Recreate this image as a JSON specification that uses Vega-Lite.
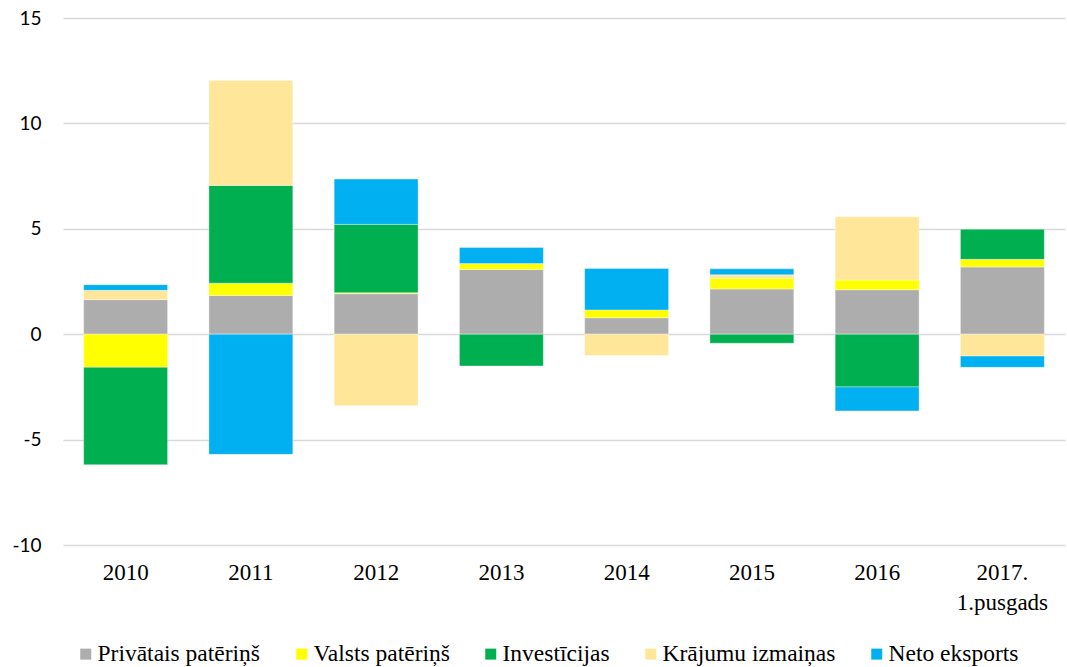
{
  "$schema": "https://vega.github.io/schema/vega-lite/v6.json",
  "autosize": {"type": "none"},
  "width": 1002,
  "height": 527,
  "padding": {"left": 63, "top": 18, "right": 2, "bottom": 122},
  "background": "#ffffff",
  "data": {
    "values": [
      {"period": "2010", "comp": "Privātais patēriņš", "ord": 1, "value": 1.64},
      {"period": "2010", "comp": "Valsts patēriņš", "ord": 2, "value": -1.57},
      {"period": "2010", "comp": "Investīcijas", "ord": 3, "value": -4.62},
      {"period": "2010", "comp": "Krājumu izmaiņas", "ord": 4, "value": 0.44},
      {"period": "2010", "comp": "Neto eksports", "ord": 5, "value": 0.27},
      {"period": "2011", "comp": "Privātais patēriņš", "ord": 1, "value": 1.84},
      {"period": "2011", "comp": "Valsts patēriņš", "ord": 2, "value": 0.58},
      {"period": "2011", "comp": "Investīcijas", "ord": 3, "value": 4.64},
      {"period": "2011", "comp": "Krājumu izmaiņas", "ord": 4, "value": 4.97},
      {"period": "2011", "comp": "Neto eksports", "ord": 5, "value": -5.70},
      {"period": "2012", "comp": "Privātais patēriņš", "ord": 1, "value": 1.92},
      {"period": "2012", "comp": "Valsts patēriņš", "ord": 2, "value": 0.05},
      {"period": "2012", "comp": "Investīcijas", "ord": 3, "value": 3.24},
      {"period": "2012", "comp": "Krājumu izmaiņas", "ord": 4, "value": -3.39},
      {"period": "2012", "comp": "Neto eksports", "ord": 5, "value": 2.15},
      {"period": "2013", "comp": "Privātais patēriņš", "ord": 1, "value": 3.07},
      {"period": "2013", "comp": "Valsts patēriņš", "ord": 2, "value": 0.28},
      {"period": "2013", "comp": "Investīcijas", "ord": 3, "value": -1.51},
      {"period": "2013", "comp": "Neto eksports", "ord": 5, "value": 0.76},
      {"period": "2014", "comp": "Privātais patēriņš", "ord": 1, "value": 0.78},
      {"period": "2014", "comp": "Valsts patēriņš", "ord": 2, "value": 0.37},
      {"period": "2014", "comp": "Krājumu izmaiņas", "ord": 4, "value": -1.01},
      {"period": "2014", "comp": "Neto eksports", "ord": 5, "value": 1.97},
      {"period": "2015", "comp": "Privātais patēriņš", "ord": 1, "value": 2.14},
      {"period": "2015", "comp": "Valsts patēriņš", "ord": 2, "value": 0.52},
      {"period": "2015", "comp": "Investīcijas", "ord": 3, "value": -0.43},
      {"period": "2015", "comp": "Krājumu izmaiņas", "ord": 4, "value": 0.16},
      {"period": "2015", "comp": "Neto eksports", "ord": 5, "value": 0.28},
      {"period": "2016", "comp": "Privātais patēriņš", "ord": 1, "value": 2.11},
      {"period": "2016", "comp": "Valsts patēriņš", "ord": 2, "value": 0.46},
      {"period": "2016", "comp": "Investīcijas", "ord": 3, "value": -2.50},
      {"period": "2016", "comp": "Krājumu izmaiņas", "ord": 4, "value": 3.00},
      {"period": "2016", "comp": "Neto eksports", "ord": 5, "value": -1.14},
      {"period": "2017. 1.pusgads", "comp": "Privātais patēriņš", "ord": 1, "value": 3.19},
      {"period": "2017. 1.pusgads", "comp": "Valsts patēriņš", "ord": 2, "value": 0.36},
      {"period": "2017. 1.pusgads", "comp": "Investīcijas", "ord": 3, "value": 1.43},
      {"period": "2017. 1.pusgads", "comp": "Krājumu izmaiņas", "ord": 4, "value": -1.04},
      {"period": "2017. 1.pusgads", "comp": "Neto eksports", "ord": 5, "value": -0.53}
    ]
  },
  "mark": {"type": "bar", "stroke": "#ffffff", "strokeWidth": 0.6, "strokeOpacity": 0.6},
  "encoding": {
    "x": {
      "field": "period",
      "type": "nominal",
      "sort": null,
      "scale": {"paddingInner": 0.33, "paddingOuter": 0.165},
      "axis": {
        "title": null,
        "domain": false,
        "ticks": false,
        "grid": false,
        "labelAngle": 0,
        "labelFont": "Liberation Serif",
        "labelFontSize": 23,
        "labelColor": "#000000",
        "labelPadding": 16,
        "labelLineHeight": 30,
        "labelExpr": "split(datum.label, ' ')"
      }
    },
    "y": {
      "field": "value",
      "type": "quantitative",
      "aggregate": "sum",
      "stack": "zero",
      "scale": {"domain": [-10, 15], "nice": false},
      "axis": {
        "title": null,
        "values": [-10, -5, 0, 5, 10, 15],
        "labelExpr": "replace(datum.label, '−', '-')",
        "domain": false,
        "ticks": false,
        "grid": true,
        "gridColor": "#d9d9d9",
        "gridWidth": 1.5,
        "labelFont": "Lato",
        "labelFontSize": 19,
        "labelColor": "#000000",
        "labelPadding": 22
      }
    },
    "order": {"field": "ord", "type": "quantitative"},
    "color": {
      "field": "comp",
      "type": "nominal",
      "scale": {
        "domain": ["Privātais patēriņš", "Valsts patēriņš", "Investīcijas", "Krājumu izmaiņas", "Neto eksports"],
        "range": ["#adadad", "#ffff00", "#00b050", "#ffe699", "#00b0f0"]
      },
      "legend": {
        "title": null,
        "orient": "none",
        "direction": "horizontal",
        "legendX": 11,
        "legendY": 624,
        "symbolType": "square",
        "symbolSize": 121,
        "symbolStrokeWidth": 0,
        "labelFont": "Liberation Serif",
        "labelFontSize": 23.5,
        "labelColor": "#000000",
        "labelOffset": 0,
        "columnPadding": 29,
        "labelLimit": 400
      }
    }
  },
  "config": {"view": {"stroke": null}}
}
